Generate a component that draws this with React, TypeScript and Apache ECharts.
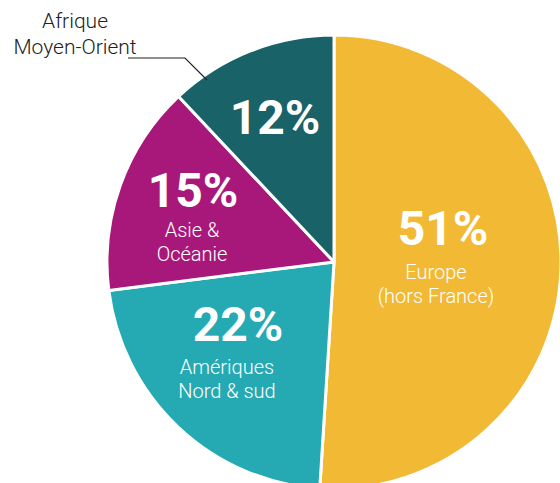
import React, { useEffect, useRef } from "react";
import * as echarts from "echarts";

const categories = ["Europe (hors France)", "Amériques Nord & sud", "Asie & Océanie", "Afrique Moyen-Orient"];
const values = [51, 22, 15, 12];
const nameLines = [["Europe", "(hors France)"], ["Amériques", "Nord & sud"], ["Asie &", "Océanie"], ["Afrique", "Moyen-Orient"]];
const colors = ["#F2B935", "#25A9B3", "#A8187A", "#196267"];

// label layout (positions only)
const pctPos = [[443, 228], [238, 324], [193, 190], [275, 117]];
const namePos = [[436, 272], [227, 367], [192, 230], null];
const outerNamePos = [75, 21];

export default function App() {
  const ref = useRef<HTMLDivElement>(null);
  useEffect(() => {
    document.body.style.margin = "0";
    const chart = echarts.init(ref.current!, null, { renderer: "svg" });
    const graphics: any[] = [];
    values.forEach((v, i) => {
      graphics.push({
        type: "text",
        z: 100,
        x: pctPos[i][0],
        y: pctPos[i][1],
        style: {
          text: `${v}%`,
          fill: "#fff",
          font: "bold 48px Roboto",
          align: "center",
          verticalAlign: "middle",
        },
      });
      const np = namePos[i];
      if (np) {
        nameLines[i].forEach((t, j) => {
          graphics.push({
            type: "text",
            z: 100,
            x: np[0],
            y: np[1] + j * 24,
            style: {
              text: t,
              fill: "#fff",
              font: "300 20px Roboto",
              align: "center",
              verticalAlign: "middle",
            },
          });
        });
      }
    });
    nameLines[3].forEach((t, j) => {
      graphics.push({
        type: "text",
        z: 100,
        x: outerNamePos[0],
        y: outerNamePos[1] + j * 26,
        style: {
          text: t,
          fill: "#222",
          font: "300 21px Roboto",
          align: "center",
          verticalAlign: "middle",
        },
      });
    });
    graphics.push({
      type: "polyline",
      z: 100,
      shape: { points: [[128, 58], [185, 58], [207, 80]] },
      style: { stroke: "#222", lineWidth: 1.2, fill: "none" },
    });
    chart.setOption({
      animation: false,
      backgroundColor: "#fff",
      series: [
        {
          type: "pie",
          center: [334, 262],
          radius: 227,
          startAngle: 90,
          clockwise: true,
          label: { show: false },
          labelLine: { show: false },
          itemStyle: { borderColor: "#fff", borderWidth: 3 },
          data: categories.map((c, i) => ({ name: c, value: values[i], itemStyle: { color: colors[i] } })),
        },
      ],
      graphic: { elements: graphics },
    });
    return () => chart.dispose();
  }, []);
  return <div ref={ref} style={{ width: 560, height: 483 }} />;
}
